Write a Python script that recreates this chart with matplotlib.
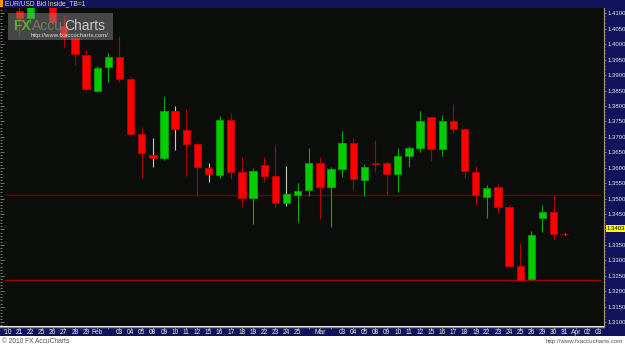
import numpy as np
import matplotlib.pyplot as plt
from matplotlib.patches import Rectangle
from matplotlib.ticker import MultipleLocator, FuncFormatter
from matplotlib import font_manager

# time axis labels, one per trading day, starting the day before the first candle
day_labels = ["'10", "21", "22", "25", "26", "27", "28", "29",
              "Feb", "", "03", "04", "05", "08", "09", "10", "11", "12",
              "15", "16", "17", "18", "19", "22", "23", "24", "25", "",
              "Mar", "", "03", "04", "05", "08", "09", "10", "11", "12",
              "15", "16", "17", "18", "19", "22", "23", "24", "25", "26",
              "29", "30", "31", "Apr", "02", "03"]

# EUR/USD daily candles, Jan 21 .. Mar 31 2010
opens = [1.4107, 1.4084, 1.4142, 1.4150, 1.4059, 1.4019, 1.3965, 1.3849, 1.3927, 1.3957,
         1.3886, 1.3708, 1.3641, 1.3632, 1.3784, 1.3722, 1.3676, 1.3598, 1.3576, 1.3754,
         1.3585, 1.3503, 1.3609, 1.3573, 1.3485, 1.3513, 1.3528, 1.3614, 1.3538, 1.3596,
         1.3679, 1.3560, 1.3615, 1.3614, 1.3580, 1.3638, 1.3665, 1.3763, 1.3661, 1.3751,
         1.3724, 1.3587, 1.3506, 1.3537, 1.3472, 1.3282, 1.3239, 1.3438, 1.3456, 1.3386]
highs = [1.4125, 1.4152, 1.4188, 1.4170, 1.4095, 1.4039, 1.3981, 1.3930, 1.3972, 1.4026,
         1.3893, 1.3733, 1.3695, 1.3828, 1.3800, 1.3789, 1.3679, 1.3614, 1.3767, 1.3776,
         1.3636, 1.3598, 1.3636, 1.3674, 1.3606, 1.3550, 1.3665, 1.3636, 1.3601, 1.3720,
         1.3695, 1.3611, 1.3690, 1.3618, 1.3663, 1.3671, 1.3784, 1.3765, 1.3771, 1.3806,
         1.3728, 1.3606, 1.3544, 1.3547, 1.3479, 1.3357, 1.3396, 1.3479, 1.3512, 1.3387]
lows = [1.4030, 1.4069, 1.4122, 1.4065, 1.3992, 1.3933, 1.3852, 1.3844, 1.3879, 1.3878,
        1.3707, 1.3566, 1.3601, 1.3625, 1.3657, 1.3574, 1.3508, 1.3555, 1.3568, 1.3563,
        1.3474, 1.3418, 1.3553, 1.3472, 1.3476, 1.3425, 1.3508, 1.3434, 1.3409, 1.3571,
        1.3528, 1.3508, 1.3587, 1.3514, 1.3522, 1.3603, 1.3652, 1.3622, 1.3639, 1.3713,
        1.3568, 1.3479, 1.3438, 1.3452, 1.3280, 1.3234, 1.3236, 1.3393, 1.3368, 1.3383]
closes = [1.4086, 1.4140, 1.4155, 1.4073, 1.4023, 1.3968, 1.3854, 1.3922, 1.3958, 1.3886,
          1.3709, 1.3649, 1.3630, 1.3785, 1.3724, 1.3677, 1.3603, 1.3579, 1.3755, 1.3587,
          1.3503, 1.3590, 1.3574, 1.3485, 1.3515, 1.3526, 1.3614, 1.3538, 1.3595, 1.3679,
          1.3562, 1.3603, 1.3613, 1.3580, 1.3639, 1.3663, 1.3752, 1.3661, 1.3751, 1.3724,
          1.3589, 1.3512, 1.3535, 1.3474, 1.3282, 1.3237, 1.3382, 1.3456, 1.3385, 1.3384]

levels = [1.3513, 1.3235]
level_colors = ["#6e0000", "#a00000"]
last_price = 1.3403

W, H = 625, 346
navy = "#10125a"
bg = "#0b0d0b"
ymin, ymax = 1.30874, 1.41172

names = {f.name for f in font_manager.fontManager.ttflist}
narrow = "Liberation Sans Narrow" if "Liberation Sans Narrow" in names else "Liberation Sans"
plt.rcParams["font.family"] = ["Liberation Sans", "DejaVu Sans"]


def fx(px):
    return px / W


def fy(py):
    return 1 - py / H


def price_label(v, pos):
    # the current price box sits on top of the nearest scale label
    if abs(v - last_price) < 0.002 or v > ymax - 0.0005 or v < ymin + 0.0005:
        return ""
    return "%.4f" % v


fig = plt.figure(figsize=(W / 100, H / 100), dpi=100, facecolor="white")

# panels around the chart
fig.add_artist(Rectangle((0, fy(7.5)), 1, 7.5 / H, transform=fig.transFigure,
                         facecolor=navy, edgecolor="none", zorder=0))
fig.add_artist(Rectangle((fx(604), fy(336)), 21 / W, 336 / H, transform=fig.transFigure,
                         facecolor=navy, edgecolor="none", zorder=0))
fig.add_artist(Rectangle((0, fy(7)), fx(2.5), 7 / H, transform=fig.transFigure,
                         facecolor="#ff9900", edgecolor="none", zorder=1))

ax = fig.add_axes([0, fy(326), fx(604), 318 / H])
ax.set_facecolor(bg)

o = np.array(opens)
h = np.array(highs)
l = np.array(lows)
c = np.array(closes)
x = np.arange(len(o))
up = c >= o
inside = np.r_[False, (h[1:] <= h[:-1]) & (l[1:] >= l[:-1])]
wick_colors = np.where(inside, "#c8c8c8", np.where(up, "#00b000", "#b00000"))

for lev, col in zip(levels, level_colors):
    ax.axhline(lev, xmin=5 / 604, xmax=600 / 604, color=col, lw=1.0, zorder=1)

ax.vlines(x, l, h, colors=wick_colors, lw=0.8, zorder=2)
ax.bar(x, np.abs(c - o), width=0.66, bottom=np.minimum(o, c),
       color=np.where(up, "#00cc00", "#ff0000"),
       edgecolor=np.where(up, "#00a400", "#c00000"), linewidth=0.6, zorder=3)

ax.set_xlim(-1.734, 52.53)
ax.set_ylim(ymin, ymax)
ax.set_xticks([])
for s in ax.spines.values():
    s.set_visible(False)

# left ruler
ax.yaxis.set_major_locator(MultipleLocator(0.005))
ax.yaxis.set_minor_locator(MultipleLocator(0.001))
ax.tick_params(axis="y", which="both", direction="in", colors="#8a8a8a",
               labelleft=False, width=0.6)
ax.tick_params(axis="y", which="major", length=3)
ax.tick_params(axis="y", which="minor", length=1.5)

# right price scale
sec = ax.secondary_yaxis("right")
sec.yaxis.set_major_locator(MultipleLocator(0.005))
sec.yaxis.set_minor_locator(MultipleLocator(0.001))
sec.yaxis.set_major_formatter(FuncFormatter(price_label))
sec.spines["right"].set_color("#a89878")
sec.spines["right"].set_linewidth(0.8)
sec.tick_params(which="both", colors="#a89878", labelcolor="#e6e6e6",
                labelsize=4.3, width=0.5, pad=0.8)
sec.tick_params(which="major", length=1.5)
sec.tick_params(which="minor", length=0.8)
for t in sec.get_yticklabels():
    t.set_fontfamily(narrow)

ax.text(1 + 2.5 / 604, last_price, "%.4f" % last_price, transform=ax.get_yaxis_transform(),
        ha="left", va="center", fontsize=4.3, family=narrow, color="black", clip_on=False,
        bbox=dict(boxstyle="square,pad=0.12", facecolor="#ffff00", edgecolor="none"), zorder=5)

# time axis bar
axb = fig.add_axes([0, fy(336), fx(604), 9.5 / H])
axb.set_facecolor(navy)
axb.set_xlim(ax.get_xlim())
axb.set_ylim(0, 1)
axb.set_yticks([])
axb.set_xticks(np.arange(len(day_labels)) - 1)
axb.tick_params(axis="x", direction="in", top=True, bottom=False, labelbottom=False,
                length=1.2, width=0.6, colors="#9a9a9a")
for s in axb.spines.values():
    s.set_visible(False)
axb.spines["top"].set_visible(True)
axb.spines["top"].set_color("#8a8a8a")
axb.spines["top"].set_linewidth(1.0)
for i, lab in enumerate(day_labels):
    axb.text(i - 1, 0.42, lab, transform=axb.get_xaxis_transform(), ha="center", va="center",
             fontsize=4.8, family=narrow, color="#ecead6", clip_on=True)

# title
fig.text(fx(5), fy(3.8), "EUR/USD Bid Inside_TB=1", fontsize=4.8, family=narrow,
         color="#e6d8a8", va="center", ha="left")

# watermark
fig.add_artist(Rectangle((fx(8), fy(40)), 105 / W, 27 / H, transform=fig.transFigure,
                         facecolor="#909090", alpha=0.45, edgecolor="none", zorder=6))
fig.text(fx(13), fy(30), "FX", fontsize=10, fontweight="bold", color="#62a832", zorder=7)
fig.text(fx(32), fy(30), "Accu", fontsize=10, color="#6e7c62", zorder=7)
fig.text(fx(64), fy(30), "Charts", fontsize=10, color="#cacaca", zorder=7)
fig.text(fx(31), fy(37), "http://www.fxaccucharts.com/", fontsize=4.3, color="#dcdcdc", zorder=7)

# footer
fig.text(fx(2), fy(341.5), "\u00a9 2010 FX AccuCharts", fontsize=4.8, color="#505050", va="center")
fig.text(fx(623), fy(341.5), "http://www.fxaccucharts.com", fontsize=4.4, color="#505050",
         va="center", ha="right")

fig.savefig("out.png", dpi=100, facecolor="white")
